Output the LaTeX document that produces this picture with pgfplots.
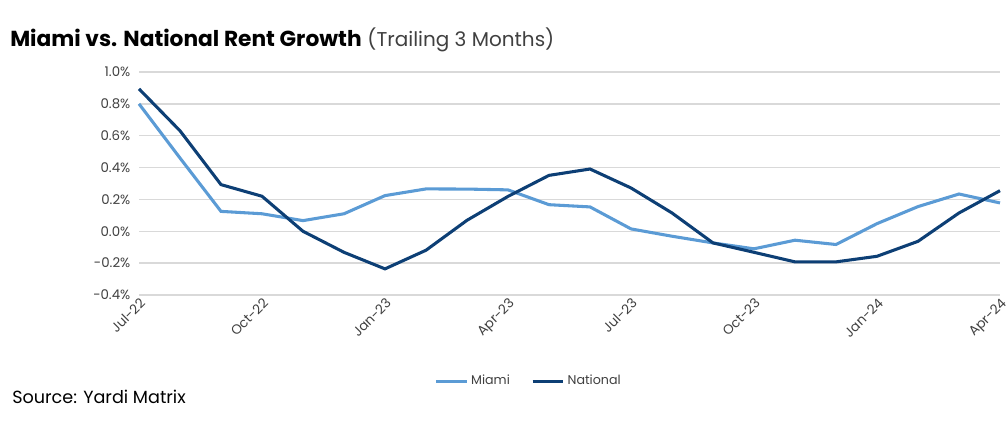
\documentclass[border=0pt]{standalone}
\usepackage{pgfplots}
\pgfplotsset{compat=1.18}
\usepackage{fontspec}
\setmainfont{Poppins}
\definecolor{miami}{HTML}{5B9BD5}
\definecolor{natl}{HTML}{0D3F75}
\definecolor{gridc}{HTML}{D9D9D9}
\definecolor{txt}{HTML}{404040}
\begin{document}
\begin{tikzpicture}
\path[use as bounding box] (0pt,0pt) rectangle (755.25pt,324.75pt);
\node[anchor=base west,inner sep=0pt,font=\fontsize{16.3}{19}\selectfont] at (7.5pt,289.5pt) {\textbf{Miami vs. National Rent Growth} {\fontsize{15}{18}\selectfont\color{txt}(Trailing 3 Months)}};
\node[anchor=base west,inner sep=0pt,font=\fontsize{13.2}{15}\selectfont] at (9pt,22.5pt) {Source: Yardi Matrix};
\begin{axis}[
  at={(104.25pt,103.5pt)}, anchor=south west,
  scale only axis, width=645.75pt, height=167.25pt,
  xmin=0, xmax=21, ymin=-0.4, ymax=1.0,
  ytick={-0.4,-0.2,0,0.2,0.4,0.6,0.8,1.0},
  yticklabels={\mbox{-}0.4\%,\mbox{-}0.2\%,0.0\%,0.2\%,0.4\%,0.6\%,0.8\%,1.0\%},
  xtick={0,3,6,9,12,15,18,21},
  xticklabels={Jul-22,Oct-22,Jan-23,Apr-23,Jul-23,Oct-23,Jan-24,Apr-24},
  xticklabel style={rotate=45, anchor=north east, font=\fontsize{10}{12}\selectfont, text=txt, inner sep=1pt},
  yticklabel style={font=\fontsize{10}{12}\selectfont, text=txt, xshift=-3pt},
  axis line style={draw=none},
  tick style={draw=none},
  ymajorgrids, grid style={gridc, line width=1pt},
  clip=false,
  legend style={draw=none, at={(0.453,-0.386)}, anchor=center, font=\fontsize{9.5}{11}\selectfont, text=txt, legend columns=2, /tikz/every even column/.append style={column sep=14pt}},
  legend image code/.code={\draw[#1] (0pt,0pt) -- (23pt,0pt);},
]
\addplot[miami, line width=2.3pt] coordinates {
(0,0.80) (1,0.46) (2,0.125) (3,0.11) (4,0.067) (5,0.11) (6,0.224) (7,0.266) (8,0.265) (9,0.26) (10,0.167) (11,0.153) (12,0.015) (13,-0.031) (14,-0.073) (15,-0.11) (16,-0.056) (17,-0.083) (18,0.048) (19,0.155) (20,0.234) (21,0.178)};
\addlegendentry{Miami}
\addplot[natl, line width=2.3pt] coordinates {
(0,0.894) (1,0.631) (2,0.293) (3,0.22) (4,0.0) (5,-0.132) (6,-0.236) (7,-0.119) (8,0.069) (9,0.219) (10,0.351) (11,0.391) (12,0.272) (13,0.115) (14,-0.073) (15,-0.132) (16,-0.192) (17,-0.192) (18,-0.157) (19,-0.063) (20,0.115) (21,0.255)};
\addlegendentry{National}
\end{axis}
\end{tikzpicture}
\end{document}
